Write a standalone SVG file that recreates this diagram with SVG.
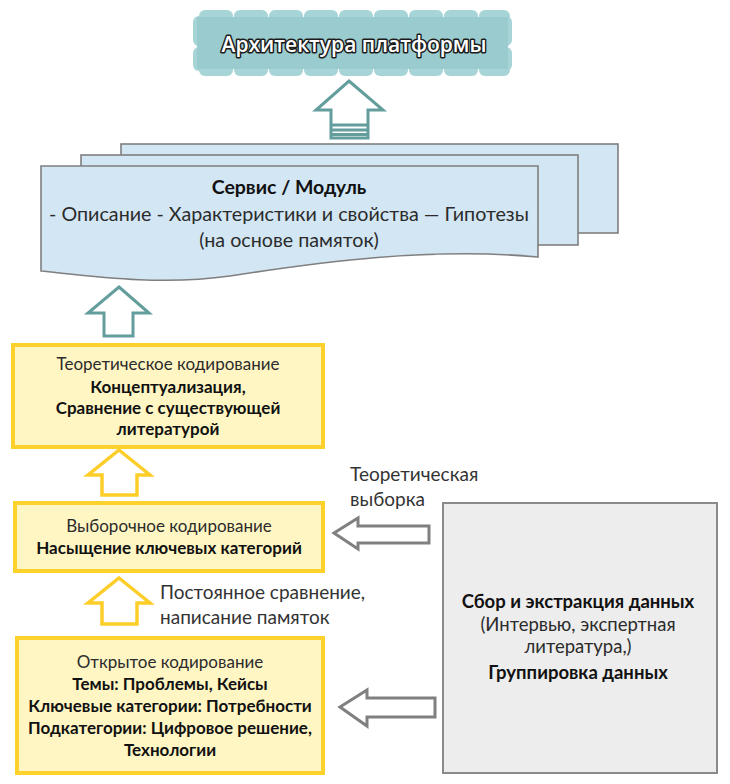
<svg xmlns="http://www.w3.org/2000/svg" width="730" height="784" viewBox="0 0 730 784">
<style>
.t{font-family:Lato,"Open Sans","Noto Sans",sans-serif;text-anchor:middle;fill:#2b2b2b}
.b{font-weight:bold;fill:#111}
.yb{fill:#fff6c4;stroke:#fdd22c;stroke-width:4}
.doc{fill:#d2e6f4;stroke:#7f7f7f;stroke-width:1.6}
.ta{fill:#fff;stroke:#639e9d;stroke-width:3;stroke-linejoin:miter}
.ya{fill:#fff;stroke:#fdcd2a;stroke-width:3.5}
.ga{fill:#fff;stroke:#808080;stroke-width:3}
.lbl{font-family:Lato,"Open Sans","Noto Sans",sans-serif;fill:#333;font-size:19px}
.bump{fill:#a6d4d7}
</style>
<rect width="730" height="784" fill="#fff"/>

<g id="architecture">
  <g class="bump">
    <rect x="199" y="10" width="34" height="14" rx="6"/>
    <rect x="234" y="10" width="34" height="14" rx="6"/>
    <rect x="269" y="10" width="34" height="14" rx="6"/>
    <rect x="304" y="10" width="34" height="14" rx="6"/>
    <rect x="339" y="10" width="34" height="14" rx="6"/>
    <rect x="374" y="10" width="34" height="14" rx="6"/>
    <rect x="409" y="10" width="34" height="14" rx="6"/>
    <rect x="444" y="10" width="34" height="14" rx="6"/>
    <rect x="479" y="10" width="31" height="14" rx="6"/>
    <rect x="199" y="62" width="34" height="14" rx="6"/>
    <rect x="234" y="62" width="34" height="14" rx="6"/>
    <rect x="269" y="62" width="34" height="14" rx="6"/>
    <rect x="304" y="62" width="34" height="14" rx="6"/>
    <rect x="339" y="62" width="34" height="14" rx="6"/>
    <rect x="374" y="62" width="34" height="14" rx="6"/>
    <rect x="409" y="62" width="34" height="14" rx="6"/>
    <rect x="444" y="62" width="34" height="14" rx="6"/>
    <rect x="479" y="62" width="31" height="14" rx="6"/>
    <rect x="193" y="16" width="14" height="30" rx="6"/>
    <rect x="193" y="47" width="14" height="24" rx="6"/>
    <rect x="498" y="16" width="14" height="30" rx="6"/>
    <rect x="498" y="47" width="14" height="24" rx="6"/>
  </g>
  <rect x="197" y="17" width="311" height="52" fill="#9acccf"/>
  <text x="354" y="52" font-family="'Open Sans','Noto Sans',sans-serif" font-size="21" font-weight="600" text-anchor="middle" fill="#fff" stroke="#1b1b1b" stroke-width="3" stroke-linejoin="round" paint-order="stroke">Архитектура платформы</text>
</g>

<g id="service-module">
  <rect class="doc" x="121" y="144" width="497" height="89"/>
  <rect class="doc" x="81" y="155" width="497" height="90"/>
  <path class="doc" d="M41,166 H538 V257 C430,247 320,262 230,276 C160,286 90,276 41,271 Z"/>
  <text class="t b" x="289" y="194" font-size="19.5">Сервис / Модуль</text>
  <text class="t" x="289" y="221" font-size="19.7">- Описание - Характеристики и свойства — Гипотезы</text>
  <text class="t" x="289" y="247" font-size="19.7">(на основе памяток)</text>
</g>

<g id="theoretical-coding">
  <rect class="yb" x="13" y="345" width="310" height="102"/>
  <text class="t" x="168" y="370" font-size="17">Теоретическое кодирование</text>
  <text class="t b" x="168" y="393" font-size="17">Концептуализация,</text>
  <text class="t b" x="168" y="414" font-size="17">Сравнение с существующей</text>
  <text class="t b" x="168" y="435" font-size="17">литературой</text>
</g>

<g id="selective-coding">
  <rect class="yb" x="15" y="503" width="308" height="68"/>
  <text class="t" x="169" y="532" font-size="17">Выборочное кодирование</text>
  <text class="t b" x="169" y="554" font-size="17">Насыщение ключевых категорий</text>
</g>

<g id="open-coding">
  <rect class="yb" x="17" y="638" width="306" height="135"/>
  <text class="t" x="170" y="668" font-size="17">Открытое кодирование</text>
  <text class="t b" x="170" y="690" font-size="17">Темы: Проблемы, Кейсы</text>
  <text class="t b" x="170" y="712" font-size="17">Ключевые категории: Потребности</text>
  <text class="t b" x="170" y="734" font-size="17">Подкатегории: Цифровое решение,</text>
  <text class="t b" x="170" y="756" font-size="17">Технологии</text>
</g>

<g id="data-collection">
  <rect x="443" y="503" width="274" height="270" fill="#ededed" stroke="#8a8a8a" stroke-width="2"/>
  <text class="t b" x="578" y="608" font-size="18.5">Сбор и экстракция данных</text>
  <text class="t" x="578" y="631" font-size="18.5">(Интервью, экспертная</text>
  <text class="t" x="578" y="653" font-size="18.5">литература,)</text>
  <text class="t b" x="578" y="679" font-size="18.5">Группировка данных</text>
</g>

<g id="connectors">
  <path class="ta" d="M349,81 L383,110 L368,110 L368,138 L331,138 L331,110 L316,110 Z"/>
  <g stroke="#639e9d" stroke-width="3">
    <line x1="331" y1="125" x2="368" y2="125"/>
    <line x1="331" y1="130" x2="368" y2="130"/>
    <line x1="331" y1="134.5" x2="368" y2="134.5"/>
  </g>
  <path class="ta" d="M119,287 L149,313 L133,313 L133,336 L104,336 L104,313 L88,313 Z"/>
  <path class="ya" d="M119,450 L150,475 L137,475 L137,495 L102,495 L102,475 L88,475 Z"/>
  <path class="ya" d="M119,578 L150,603 L137,603 L137,624 L102,624 L102,603 L88,603 Z"/>
  <path class="ga" d="M334,533 L358,518 L358,526 L429,526 L429,543 L358,543 L358,549 Z"/>
  <path class="ga" d="M340,707 L367,690 L367,698 L435,698 L435,717 L367,717 L367,726 Z"/>
  <text class="lbl" x="350" y="481">Теоретическая</text>
  <text class="lbl" x="350" y="506">выборка</text>
  <text class="lbl" x="160" y="599">Постоянное сравнение,</text>
  <text class="lbl" x="160" y="624">написание памяток</text>
</g>
</svg>
